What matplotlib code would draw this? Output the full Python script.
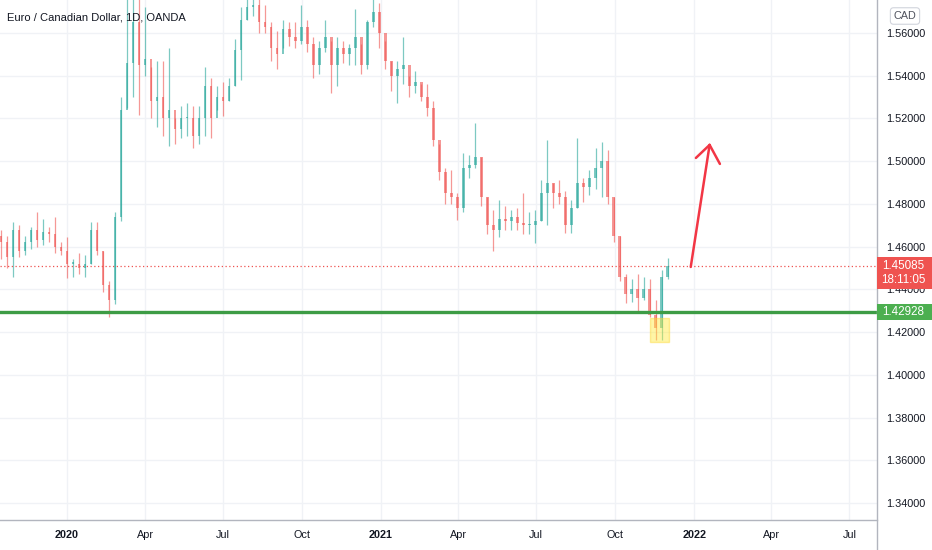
import matplotlib
matplotlib.use("Agg")
import matplotlib.pyplot as plt
import matplotlib.dates as mdates
import matplotlib.transforms as mtransforms
from matplotlib.patches import Rectangle
import pandas as pd

# weekly EUR/CAD candles, Oct 2019 -> Nov 2021
week_close = [
    1.462, 1.455, 1.468, 1.458, 1.462, 1.468, 1.463, 1.467, 1.466, 1.460,
    1.458, 1.452, 1.452, 1.450, 1.452, 1.468, 1.458, 1.442, 1.435, 1.474,
    1.524, 1.546, 1.565, 1.545, 1.548, 1.528, 1.530, 1.520, 1.524, 1.515,
    1.520, 1.520, 1.512, 1.520, 1.535, 1.520, 1.530, 1.528, 1.535, 1.552,
    1.566, 1.572, 1.573, 1.565, 1.563, 1.553, 1.550, 1.562, 1.558, 1.556,
    1.563, 1.555, 1.545, 1.553, 1.558, 1.545, 1.553, 1.550, 1.553, 1.558,
    1.545, 1.565, 1.570, 1.560, 1.547, 1.540, 1.543, 1.545, 1.535, 1.537,
    1.530, 1.525, 1.510, 1.495, 1.485, 1.483, 1.478, 1.497, 1.498, 1.502,
    1.483, 1.470, 1.468, 1.473, 1.472, 1.474, 1.471, 1.470, 1.470, 1.472,
    1.485, 1.490, 1.485, 1.483, 1.470, 1.478, 1.490, 1.488, 1.492, 1.497,
    1.500, 1.483, 1.465, 1.446, 1.438, 1.440, 1.436, 1.440, 1.428, 1.422,
    1.446, 1.45085,
]
week_high = [
    1.468, 1.465, 1.4716, 1.470, 1.465, 1.469, 1.476, 1.473, 1.469, 1.474,
    1.462, 1.4644, 1.454, 1.457, 1.456, 1.4716, 1.4716, 1.458, 1.444, 1.476,
    1.530, 1.600, 1.590, 1.585, 1.572, 1.544, 1.547, 1.547, 1.553, 1.520,
    1.526, 1.527, 1.526, 1.526, 1.544, 1.539, 1.535, 1.537, 1.539, 1.557,
    1.572, 1.585, 1.583, 1.578, 1.573, 1.565, 1.561, 1.566, 1.565, 1.565,
    1.573, 1.566, 1.558, 1.556, 1.566, 1.556, 1.558, 1.556, 1.555, 1.571,
    1.555, 1.566, 1.576, 1.574, 1.556, 1.547, 1.547, 1.558, 1.540, 1.542,
    1.536, 1.536, 1.528, 1.508, 1.497, 1.496, 1.485, 1.504, 1.503, 1.518,
    1.502, 1.483, 1.477, 1.482, 1.479, 1.477, 1.478, 1.485, 1.476, 1.477,
    1.491, 1.510, 1.490, 1.491, 1.486, 1.482, 1.511, 1.492, 1.496, 1.506,
    1.509, 1.505, 1.483, 1.465, 1.447, 1.445, 1.447, 1.4458, 1.445, 1.435,
    1.449, 1.4547,
]
week_low = [
    1.454, 1.450, 1.446, 1.455, 1.456, 1.459, 1.460, 1.461, 1.462, 1.457,
    1.456, 1.4453, 1.446, 1.447, 1.446, 1.452, 1.456, 1.439, 1.427, 1.433,
    1.472, 1.525, 1.530, 1.5216, 1.540, 1.520, 1.516, 1.512, 1.507, 1.508,
    1.511, 1.512, 1.506, 1.508, 1.512, 1.511, 1.524, 1.521, 1.528, 1.535,
    1.538, 1.566, 1.568, 1.560, 1.560, 1.547, 1.543, 1.553, 1.554, 1.553,
    1.555, 1.551, 1.539, 1.541, 1.551, 1.532, 1.535, 1.546, 1.545, 1.545,
    1.541, 1.543, 1.563, 1.553, 1.543, 1.533, 1.527, 1.536, 1.530, 1.532,
    1.528, 1.521, 1.507, 1.491, 1.480, 1.480, 1.4725, 1.476, 1.492, 1.497,
    1.479, 1.466, 1.458, 1.4645, 1.468, 1.468, 1.468, 1.466, 1.466, 1.4617,
    1.472, 1.470, 1.478, 1.480, 1.4665, 1.4664, 1.478, 1.481, 1.484, 1.487,
    1.483, 1.480, 1.462, 1.444, 1.4336, 1.434, 1.4294, 1.435, 1.427, 1.4163,
    1.4165, 1.445,
]
first_open = 1.465
week_dates = pd.date_range("2019-10-16", periods=len(week_close), freq="7D")

support_level = 1.42928
last_price = week_close[-1]
countdown = "18:11:05"

price_ticks = [1.34, 1.36, 1.38, 1.40, 1.42, 1.44, 1.46, 1.48, 1.50, 1.52, 1.54, 1.56]
month_ticks = ["2020-01-01", "2020-04-01", "2020-07-01", "2020-10-01",
               "2021-01-01", "2021-04-01", "2021-07-01", "2021-10-01",
               "2022-01-01", "2022-04-01", "2022-07-01"]
month_labels = ["2020", "Apr", "Jul", "Oct", "2021", "Apr", "Jul", "Oct",
                "2022", "Apr", "Jul"]

# hand-drawn annotations (date, price)
highlight_box = ("2021-11-10", "2021-12-03", 1.4154, 1.4266)
arrow_tail = ("2021-12-28", 1.4505)
arrow_tip = ("2022-01-19", 1.5076)
arrow_wings = [("2022-01-03", 1.5015), ("2022-01-31", 1.4987)]

UP = "#26a69a"
DOWN = "#ef5350"
TEXT = "#131722"
GRID = "#f0f2f6"

plt.rcParams["font.family"] = ["Liberation Sans", "DejaVu Sans"]

W, H = 932, 550
fig = plt.figure(figsize=(W / 100, H / 100), dpi=100)
ax = fig.add_axes([0, 30 / H, 877 / W, 520 / H])

opens = [first_open] + week_close[:-1]
xs = mdates.date2num(week_dates)
for x, o, h, l, c in zip(xs, opens, week_high, week_low, week_close):
    col = UP if c >= o else DOWN
    ax.vlines(x, l, h, color=col, lw=0.9, alpha=0.6, zorder=3)
    lo, hi = min(o, c), max(o, c)
    ax.bar(x, max(hi - lo, 0.0008), bottom=lo, width=3.0, color=col,
           alpha=0.6, linewidth=0, zorder=3)

ax.set_xlim(mdates.date2num(pd.Timestamp("2020-01-01")) - 78.1,
            mdates.date2num(pd.Timestamp("2020-01-01")) + 944.1)
ax.set_ylim(1.3321, 1.5754)

# last price dotted line + support line
ax.axhline(last_price, color=DOWN, lw=0.9, ls=(0, (1, 2)), zorder=2)
ax.axhline(support_level, color="#3d9c45", lw=2.4, zorder=4)

# highlight box
bx0 = mdates.date2num(pd.Timestamp(highlight_box[0]))
bx1 = mdates.date2num(pd.Timestamp(highlight_box[1]))
ax.add_patch(Rectangle((bx0, highlight_box[2]), bx1 - bx0,
                       highlight_box[3] - highlight_box[2],
                       facecolor="#ffeb3b", alpha=0.45, edgecolor="#fdd835",
                       lw=1, zorder=5))

# red arrow
tx = mdates.date2num(pd.Timestamp(arrow_tail[0]))
px = mdates.date2num(pd.Timestamp(arrow_tip[0]))
ax.plot([tx, px], [arrow_tail[1], arrow_tip[1]], color="#f23645", lw=1.8,
        solid_capstyle="round", zorder=6)
for d, p in arrow_wings:
    ax.plot([mdates.date2num(pd.Timestamp(d)), px], [p, arrow_tip[1]],
            color="#f23645", lw=1.8, solid_capstyle="round", zorder=6)

# grid & ticks
ax.set_xticks(mdates.date2num(pd.to_datetime(month_ticks)))
ax.set_xticklabels(month_labels)
for lab, txt in zip(ax.get_xticklabels(), month_labels):
    if txt.isdigit():
        lab.set_fontweight("bold")
ax.set_yticks(price_ticks)
ax.set_yticklabels([f"{p:.5f}" for p in price_ticks])
ax.yaxis.tick_right()
ax.tick_params(axis="both", length=0, labelsize=7.8, labelcolor=TEXT)
ax.tick_params(axis="x", pad=7.5)
ax.tick_params(axis="y", pad=6.5)
ax.grid(True, color=GRID, lw=1, zorder=0)
ax.set_axisbelow(True)
for s in ax.spines.values():
    s.set_visible(False)

# axis borders
fig.add_artist(plt.Line2D([877 / W, 877 / W], [0, 1], color="#b2b5be", lw=1))
fig.add_artist(plt.Line2D([0, 877 / W], [30 / H, 30 / H], color="#b2b5be", lw=1))

# price labels on the scale
blend = mtransforms.blended_transform_factory(fig.transFigure, ax.transData)
lx0 = 877 / W
fig.add_artist(Rectangle((lx0, last_price - 0.0107), 1 - lx0, 0.0151,
                         transform=blend, facecolor="#ef5350", edgecolor="none",
                         zorder=10))
fig.text(903 / W, last_price, f"{last_price:.5f}", transform=blend,
         ha="center", va="center", color="white", fontsize=8.4, zorder=11)
fig.text(903 / W, last_price - 0.00655, countdown, transform=blend,
         ha="center", va="center", color="white", fontsize=8.4, zorder=11)
fig.add_artist(Rectangle((lx0, support_level - 0.0038), 1 - lx0, 0.0076,
                         transform=blend, facecolor="#4caf50", edgecolor="none",
                         zorder=10))
fig.text(903 / W, support_level, f"{support_level:.5f}", transform=blend,
         ha="center", va="center", color="white", fontsize=8.4, zorder=11)

# title and currency badge
fig.text(7 / W, 1 - 17 / H, "Euro / Canadian Dollar, 1D, OANDA",
         ha="left", va="center", color=TEXT, fontsize=8.0)
fig.text(905 / W, 1 - 16 / H, "CAD", ha="center", va="center", color="#50535e",
         fontsize=7.8,
         bbox=dict(boxstyle="round,pad=0.3,rounding_size=0.3",
                   facecolor="white", edgecolor="#d1d4dc", lw=0.8))

fig.savefig("out.png", dpi=100, facecolor="white")
